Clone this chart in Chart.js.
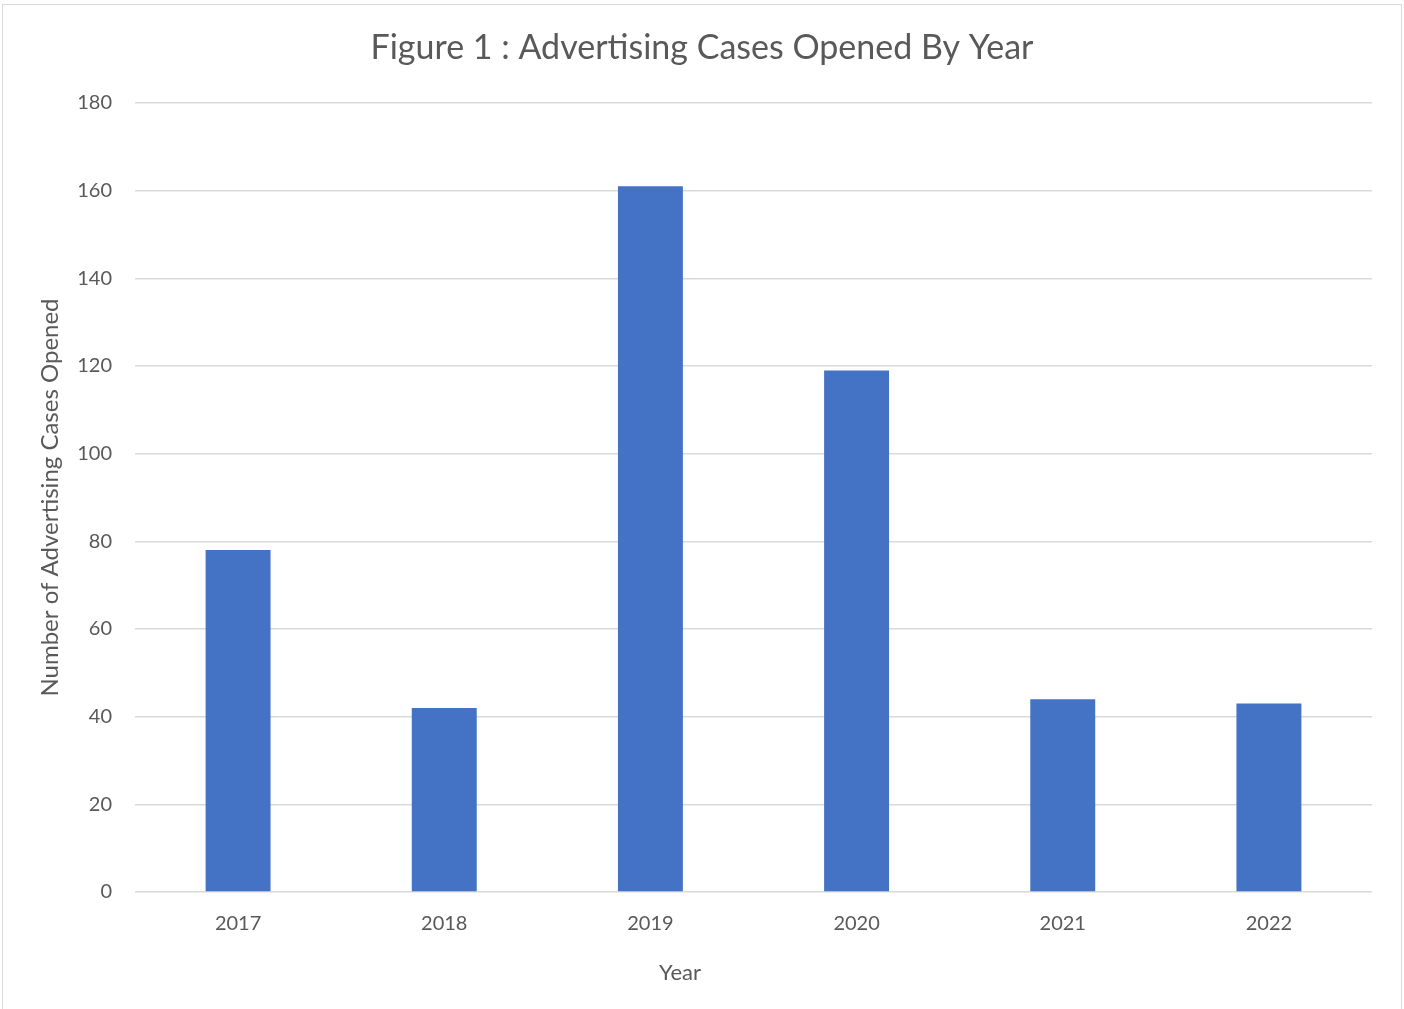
<!DOCTYPE html>
<html>
<head>
<meta charset="utf-8">
<script src="https://cdn.jsdelivr.net/npm/chart.js@4"></script>
<style>
  html, body { margin: 0; padding: 0; background: #fff; overflow: hidden; }
  #frame { position: absolute; left: 2px; top: 4px; width: 1398px; height: 1020px; border: 1px solid #d9d9d9; }
  #wrap { position: absolute; left: 0; top: 0; width: 1404px; height: 1009px; }
</style>
</head>
<body>
<div id="frame"></div>
<div id="wrap"><canvas id="chart" width="1404" height="1009"></canvas></div>
<script>
const years = ['2017', '2018', '2019', '2020', '2021', '2022'];
const casesOpened = [78, 42, 161, 119, 44, 43];
const yTicks = [0, 20, 40, 60, 80, 100, 120, 140, 160, 180];

const chartTitle = 'Figure 1 : Advertising Cases Opened By Year';
const xTitle = 'Year';
const yTitle = 'Number of Advertising Cases Opened';

const FONT = 'Lato, "Open Sans", sans-serif';
const TEXT = '#595959';

Chart.defaults.font.family = FONT;
Chart.defaults.color = TEXT;

// Excel-style titles: chart title centred on the whole canvas, axis title a bit left of centre
const titlesPlugin = {
  id: 'titles',
  afterDraw(chart) {
    const ctx = chart.ctx;
    ctx.save();
    ctx.fillStyle = TEXT;
    ctx.textAlign = 'center';
    ctx.textBaseline = 'middle';
    ctx.font = '34px ' + FONT;
    ctx.fillText(chartTitle, chart.width / 2, 48);
    ctx.font = '22px ' + FONT;
    ctx.fillText(xTitle, 680, 973);
    ctx.restore();
  }
};

new Chart(document.getElementById('chart'), {
  type: 'bar',
  data: {
    labels: years,
    datasets: [{
      label: 'Cases',
      data: casesOpened,
      backgroundColor: '#4472C4',
      borderWidth: 0,
      categoryPercentage: 1,
      barPercentage: 0.315
    }]
  },
  options: {
    responsive: false,
    animation: false,
    layout: { padding: { left: 0, right: 32, top: 103, bottom: 0 } },
    plugins: {
      legend: { display: false },
      tooltip: { enabled: false },
      title: { display: false }
    },
    scales: {
      x: {
        grid: { display: false, drawTicks: false },
        border: { display: false },
        ticks: { font: { size: 20 }, color: TEXT, padding: 20 },
        afterFit: s => { s.height = 117; }
      },
      y: {
        min: 0,
        max: 180,
        afterBuildTicks: s => { s.ticks = yTicks.map(v => ({ value: v })); },
        grid: { color: '#d9d9d9', lineWidth: 1.5, drawTicks: false },
        border: { display: false },
        ticks: { font: { size: 20 }, color: TEXT, padding: 23 },
        title: { display: true, text: yTitle, color: TEXT, font: { size: 24 }, padding: { top: 36, bottom: 0 } },
        afterFit: s => { s.width = 135; }
      }
    }
  },
  plugins: [titlesPlugin]
});
</script>
</body>
</html>
